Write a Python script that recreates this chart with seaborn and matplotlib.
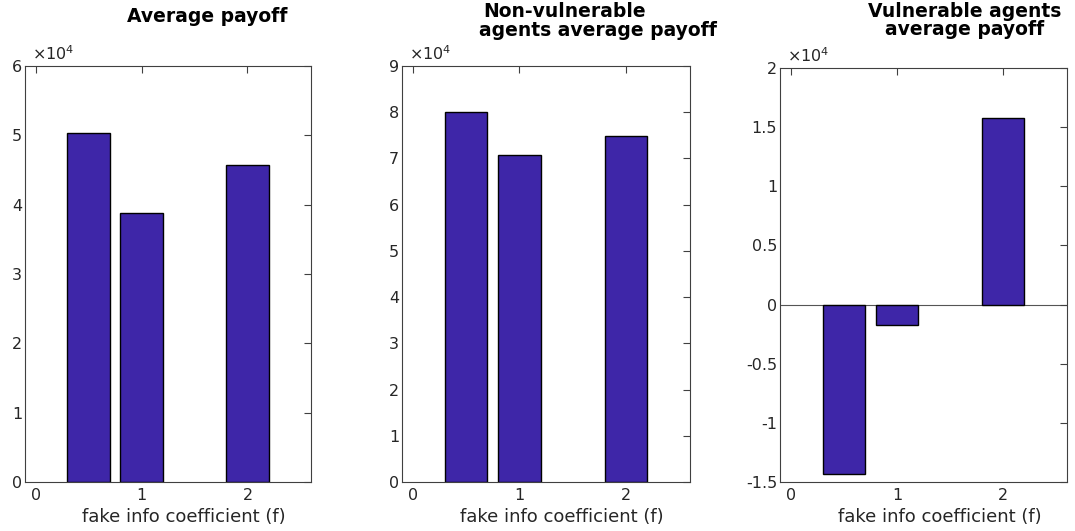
import numpy as np
import pandas as pd
import matplotlib
matplotlib.use("Agg")
import matplotlib.pyplot as plt
from matplotlib.ticker import FuncFormatter, MultipleLocator
import seaborn as sns

# fake info coefficient values on the x axis
f_values = [0.5, 1.0, 2.0]

# payoffs (raw units)
avg_payoff = [50400, 38800, 45700]
nonvuln_payoff = [80000, 70650, 74900]
vuln_payoff = [-14320, -1720, 15780]

titles = [["Average payoff"],
          ["Non-vulnerable", "agents average payoff"],
          ["Vulnerable agents", "average payoff"]]
ylims = [(0, 60000), (0, 90000), (-15000, 20000)]
ysteps = [10000, 10000, 5000]

bar_color = "#3E26A8"
axis_grey = "#404040"

sns.set_style("white")
plt.rcParams["font.family"] = ["DejaVu Sans"]
plt.rcParams["axes.unicode_minus"] = False

fig = plt.figure(figsize=(10.75, 5.31), dpi=100)
W, H = 1075, 531

# axes boxes in pixels: left, right, top, bottom
boxes = [(25, 311, 66, 482), (402, 690, 66, 482), (780, 1067, 68, 482)]
# title lines: (center x, baseline y) per line
title_pos = [[(207, 22)],
             [(565, 17), (598, 36)],
             [(965, 17), (965, 35)]]

series = [avg_payoff, nonvuln_payoff, vuln_payoff]

for i in range(3):
    l, r, t, b = boxes[i]
    ax = fig.add_axes([l / W, 1 - b / H, (r - l) / W, (b - t) / H])
    df = pd.DataFrame({"f": f_values, "payoff": series[i]})
    sns.barplot(data=df, x="f", y="payoff", native_scale=True, color=bar_color,
                saturation=1, edgecolor="black", linewidth=1, ax=ax, errorbar=None)
    ax.set_xlim(-0.1, 2.6)
    ax.set_ylim(*ylims[i])
    ax.set_xticks([0, 1, 2])
    ax.set_xticklabels(["0", "1", "2"])
    ax.yaxis.set_major_locator(MultipleLocator(ysteps[i]))
    ax.yaxis.set_major_formatter(FuncFormatter(lambda v, p: f"{v / 1e4:g}"))
    ax.tick_params(direction="in", top=True, right=True, length=5, width=0.8,
                   color=axis_grey, labelcolor="#262626", labelsize=11.5)
    ax.tick_params(axis="x", pad=4)
    ax.tick_params(axis="y", pad=2)
    for sp in ax.spines.values():
        sp.set_visible(True)
        sp.set_color(axis_grey)
        sp.set_linewidth(0.8)
    if ylims[i][0] < 0:
        ax.axhline(0, color="#555555", linewidth=0.8, zorder=0.5)
    ax.set_ylabel("")
    ax.set_xlabel("fake info coefficient (f)", fontsize=13, color="#262626")
    ax.xaxis.set_label_coords(0.556, -0.062)
    ax.text(0.025, 1.008, r"$\times10^{4}$", transform=ax.transAxes,
            fontsize=11.5, color="#262626", va="bottom", ha="left")
    for line, (cx, by) in zip(titles[i], title_pos[i]):
        fig.text(cx / W, 1 - by / H, line, ha="center", va="baseline",
                 fontsize=13.5, fontweight="bold", color="black")

fig.savefig("out.png", dpi=100)
